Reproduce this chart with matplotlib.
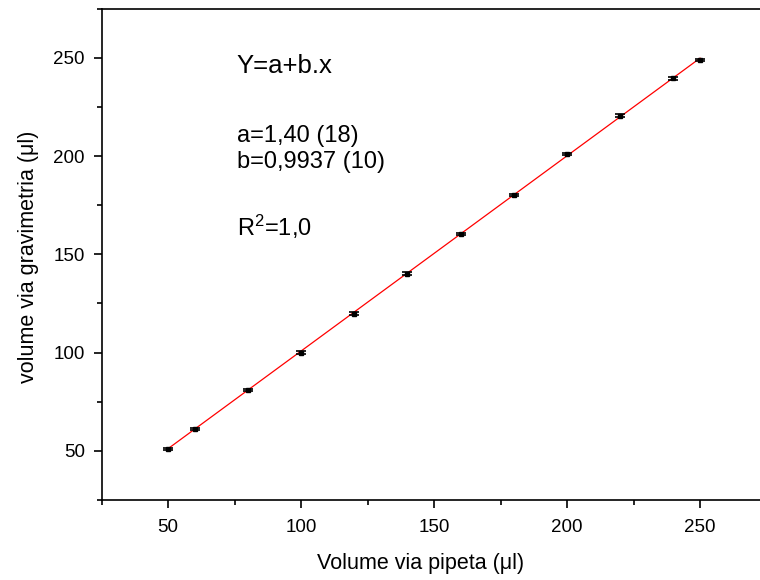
import matplotlib
matplotlib.use('Agg')
import matplotlib.pyplot as plt
import numpy as np
from matplotlib.ticker import MultipleLocator

plt.rcParams['font.family'] = ['Liberation Sans', 'DejaVu Sans']
plt.rcParams['mathtext.fontset'] = 'custom'
plt.rcParams['mathtext.rm'] = 'Liberation Sans'
plt.rcParams['mathtext.it'] = 'Liberation Sans'

# volumes nominais da pipeta e volumes medidos por gravimetria
vol_pipeta = [50, 60, 80, 100, 120, 140, 160, 180, 200, 220, 240, 250]
vol_gravimetria = [51.0, 61.0, 80.9, 100.0, 119.8, 140.2, 160.4, 180.1, 201.0, 220.6, 239.5, 249.0]
erro_gravimetria = [0.6, 0.6, 0.6, 0.6, 0.6, 0.6, 0.6, 0.6, 0.6, 0.6, 0.8, 0.6]

# parametros do ajuste linear
a = 1.40
b = 0.9937

fig = plt.figure(figsize=(7.6, 5.8), dpi=100)
ax = fig.add_axes([0.1336, 0.138, 0.875, 0.847])

x_ajuste = np.array([vol_pipeta[0], vol_pipeta[-1]])
ax.plot(x_ajuste, a + b * x_ajuste, color='red', lw=0.9, zorder=1)
ax.errorbar(vol_pipeta, vol_gravimetria, yerr=erro_gravimetria, fmt='s',
            color='black', ms=2.5, capsize=3.5, elinewidth=1, capthick=1.2,
            zorder=2)

ax.set_xlim(25, 275)
ax.set_ylim(25, 275)
ax.xaxis.set_major_locator(MultipleLocator(50))
ax.xaxis.set_minor_locator(MultipleLocator(25))
ax.yaxis.set_major_locator(MultipleLocator(50))
ax.yaxis.set_minor_locator(MultipleLocator(25))
ax.tick_params(which='major', direction='out', length=6, width=1.2,
               labelsize=13.5, pad=6)
ax.tick_params(axis='x', which='major', pad=8)
ax.tick_params(which='minor', direction='out', length=3.5, width=1.2)
for sp in ax.spines.values():
    sp.set_linewidth(1.2)

ax.set_xlabel('Volume via pipeta (μl)', fontsize=15.5)
ax.set_ylabel('volume via gravimetria (μl)', fontsize=15.5)
ax.xaxis.set_label_coords(0.479, -0.108)
ax.yaxis.set_label_coords(-0.094, 0.495)

ax.text(0.203, 0.869, 'Y=a+b.x', transform=ax.transAxes, fontsize=18.5,
        va='baseline')
ax.text(0.203, 0.728, 'a=1,40 (18)', transform=ax.transAxes, fontsize=17,
        va='baseline')
ax.text(0.203, 0.676, 'b=0,9937 (10)', transform=ax.transAxes, fontsize=17,
        va='baseline')
ax.text(0.203, 0.537, 'R$^2$=1,0', transform=ax.transAxes,
        fontsize=17, va='baseline')

fig.savefig('out.png', dpi=100)
